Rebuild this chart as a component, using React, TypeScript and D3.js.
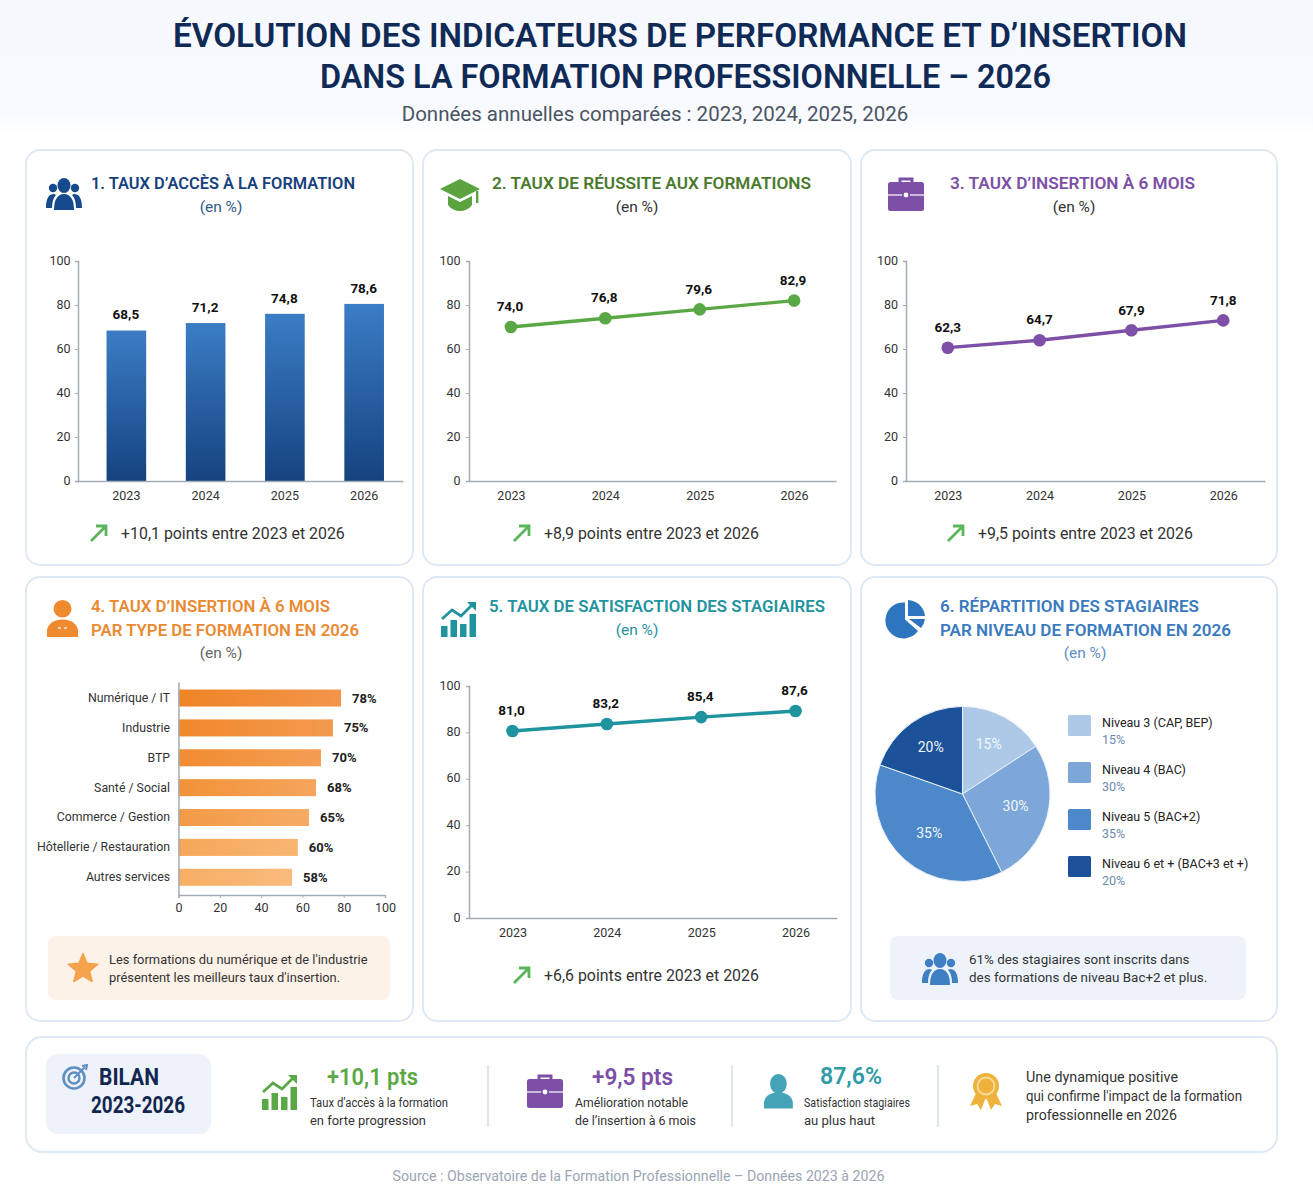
import * as React from "react";
import * as d3 from "d3";

const years = ["2023", "2024", "2025", "2026"];
const yTicks = [0, 20, 40, 60, 80, 100];

// bar and point heights as they sit on the picture, labels as they are printed
const accessValues = [68.4, 71.8, 76, 80.5];
const accessLabels = ["68,5", "71,2", "74,8", "78,6"];
const successValues = [70, 74, 78, 82];
const successLabels = ["74,0", "76,8", "79,6", "82,9"];
const insertionValues = [60.6, 64, 68.5, 73];
const insertionLabels = ["62,3", "64,7", "67,9", "71,8"];
const satisfactionValues = [80.6, 83.6, 86.6, 89.2];
const satisfactionLabels = ["81,0", "83,2", "85,4", "87,6"];

const sectors = ["Numérique / IT", "Industrie", "BTP", "Santé / Social", "Commerce / Gestion", "Hôtellerie / Restauration", "Autres services"];
const sectorValues = [78.7, 74.8, 69, 66.6, 63.2, 57.8, 55];
const sectorLabels = ["78%", "75%", "70%", "68%", "65%", "60%", "58%"];
const sectorLeftColors = ["#ef8426", "#f0882b", "#f18c31", "#f29238", "#f39a45", "#f5a758", "#f7ae64"];
const sectorRightColors = ["#f2954a", "#f39a4f", "#f49e54", "#f5a55c", "#f6ac66", "#f8b673", "#f9bb7c"];

const levels = ["Niveau 3 (CAP, BEP)", "Niveau 4 (BAC)", "Niveau 5 (BAC+2)", "Niveau 6 et + (BAC+3 et +)"];
const levelShares = [15.8, 26.8, 37.8, 19.6];
const levelLabels = ["15%", "30%", "35%", "20%"];
const levelColors = ["#aec8e7", "#7ca7d8", "#4c88ca", "#1c5299"];

const FONT = "Roboto, sans-serif";
const BLUE = "#174a8c";
const GREEN = "#5aa845";
const PURPLE = "#7d4fa6";
const TEAL = "#1f939e";
const ORANGE = "#ef8a2e";

const Axis = ({ axis, size = 12.5, color = "#333" }: any) => {
  const ref = React.useRef(null);
  React.useEffect(() => {
    const g = d3.select(ref.current);
    g.call(axis);
    g.selectAll(".domain").attr("stroke", "#a3abb5").attr("stroke-width", 1.5);
    g.selectAll(".tick line").attr("stroke", "#a3abb5");
    g.selectAll("text").attr("fill", color).style("font-size", size + "px").style("font-family", FONT);
  });
  return <g ref={ref} />;
};

const Card = ({ x, y, w, h, r = 14 }: any) => (
  <rect x={x} y={y} width={w} height={h} rx={r} fill="#fff" stroke="#dfe9f3" strokeWidth={2} />
);

// fit = width, the original face is narrower than Roboto in places
const T = ({ x, y, size = 14, color = "#333", weight = 400, anchor = "start", fit, children }: any) => (
  <text
    x={x}
    y={y}
    dy="0.35em"
    fontFamily={FONT}
    fontSize={size}
    fill={color}
    fontWeight={weight}
    textAnchor={anchor}
    textLength={fit}
    lengthAdjust={fit ? "spacingAndGlyphs" : undefined}
  >
    {children}
  </text>
);

const Trend = ({ x, y, children }: any) => (
  <g>
    <path d={`M${x - 8} ${y + 8}L${x + 6} ${y - 6}M${x - 3} ${y - 7}H${x + 7}V${y + 3}`} fill="none" stroke="#5bb55a" strokeWidth={2.8} />
    <T x={x + 22} y={y} size={15.9}>{children}</T>
  </g>
);

const People = ({ x, y, s = 1, color }: any) => (
  <g transform={`translate(${x} ${y}) scale(${s})`} fill={color}>
    <circle cx={7} cy={10} r={4.2} />
    <circle cx={29} cy={10} r={4.2} />
    <ellipse cx={18} cy={7.5} rx={6.5} ry={7.5} />
    <path d="M0 30C0 20 3 16 8 16L10 17C7 20 6 25 6 30ZM36 30C36 20 33 16 28 16L26 17C29 20 30 25 30 30Z" />
    <path d="M8 32C8 21 12 16 18 16C24 16 28 21 28 32Z" />
  </g>
);

const Briefcase = ({ x, y, s = 1, color }: any) => (
  <g transform={`translate(${x} ${y}) scale(${s})`}>
    <path d="M12 6V2H24V6" fill="none" stroke={color} strokeWidth={3} />
    <rect x={0} y={5} width={36} height={29} rx={2.5} fill={color} />
    <path d="M0 18H14M22 18H36" stroke="#fff" strokeWidth={1.4} opacity={0.8} />
    <circle cx={18} cy={18} r={2.4} fill="#fff" />
  </g>
);

const Person = ({ x, y, s = 1, color, head = 10.5, collar = false }: any) => (
  <g transform={`translate(${x} ${y}) scale(${s})`} fill={color}>
    <ellipse cx={15.5} cy={head} rx={9} ry={head} />
    <path d="M0 37V31C0 25 6 19.5 15.5 19.5C25 19.5 31 25 31 31V37Z" />
    {collar && <path d="M11 27.5L14 28.5M20 27.5L17 28.5" stroke="#fbe3c9" strokeWidth={1.6} />}
  </g>
);

const Growth = ({ x, y, s = 1, color }: any) => (
  <g transform={`translate(${x} ${y}) scale(${s})`} fill={color}>
    <rect x={0} y={25} width={6.5} height={11} />
    <rect x={9.5} y={19} width={6.5} height={17} />
    <rect x={19} y={23} width={6.5} height={13} />
    <rect x={28.5} y={13} width={6.5} height={23} />
    <path d="M1 18L11 9L20 15L32 3" fill="none" stroke={color} strokeWidth={2.8} />
    <path d="M26 1H35V10Z" />
  </g>
);

const Cap = ({ x, y, color }: any) => (
  <g transform={`translate(${x} ${y})`} fill={color}>
    <path d="M20 0L40 10L20 20L0 10Z" />
    <path d="M8 17L20 23L32 17V26C26 34 14 34 8 26Z" />
    <rect x={36} y={12} width={2.4} height={12} />
  </g>
);

const PieIcon = ({ x, y, color }: any) => (
  <g transform={`translate(${x} ${y})`} fill={color}>
    <path d="M17 2.5V19.5L30 31A18 18 0 1 1 17 2.5Z" />
    <path d="M20 0A18 18 0 0 1 37 16H20Z" />
    <path d="M21 19H37A18 18 0 0 1 33 28Z" />
  </g>
);

const Star = ({ x, y, r, color }: any) => {
  const points = d3.range(10).map(i => {
    const a = (i * Math.PI) / 5 - Math.PI / 2;
    const rr = i % 2 ? r * 0.45 : r;
    return [x + rr * Math.cos(a), y + rr * Math.sin(a)].join(",");
  });
  return <polygon points={points.join(" ")} fill={color} stroke={color} strokeWidth={1.5} strokeLinejoin="round" />;
};

const Target = ({ x, y, color }: any) => (
  <g fill="none" stroke={color}>
    <circle cx={x} cy={y} r={10.5} strokeWidth={2.6} />
    <circle cx={x} cy={y} r={5.5} strokeWidth={2.4} />
    <path d={`M${x} ${y}L${x + 11} ${y - 11}`} strokeWidth={2} />
    <path d={`M${x + 8} ${y - 12}L${x + 13} ${y - 13}L${x + 12} ${y - 8}`} strokeWidth={2} />
  </g>
);

const Medal = ({ x, y, color }: any) => (
  <g transform={`translate(${x} ${y})`}>
    <path d="M6 18L-1 33L6 31L10 37L15 24ZM24 18L31 33L24 31L20 37L15 24Z" fill={color} />
    <circle cx={15} cy={13} r={13} fill={color} />
    <circle cx={15} cy={13} r={8.5} fill="none" stroke="#f8dc9a" strokeWidth={1.8} />
    <circle cx={15} cy={13} r={5.5} fill={color} />
  </g>
);

const BarChart = () => {
  const x = d3.scaleBand().domain(years).range([78, 403]).paddingInner(0.5).paddingOuter(0.3).align(0.6);
  const y = d3.scaleLinear().domain([0, 100]).range([481, 261]);
  return (
    <g>
      {years.map((yr, i) => (
        <g key={yr}>
          <rect x={x(yr)} y={y(accessValues[i])} width={x.bandwidth()} height={y(0) - y(accessValues[i])} fill="url(#barBlue)" />
          <T x={x(yr)! + x.bandwidth() / 2 - 0.5} y={y(accessValues[i]) - 16} size={13.5} weight={700} color="#111" anchor="middle">{accessLabels[i]}</T>
        </g>
      ))}
      <Axis axis={(s: any) => { s.attr("transform", `translate(78 0)`).call(d3.axisLeft(y).tickValues(yTicks).tickSize(3).tickPadding(4.5)); s.selectAll("text").attr("dy", "0.24em"); }} />
      <Axis axis={(s: any) => { s.attr("transform", `translate(0 481)`).call(d3.axisBottom(x).tickSize(0).tickPadding(10)); }} />
    </g>
  );
};

const LineChart = ({ values, labels, color, xRange, yRange, pad, align = 0.5, tickPad = 5, labelDx = -1 }: any) => {
  const x = d3.scalePoint().domain(years).range(xRange).padding(pad).align(align);
  const y = d3.scaleLinear().domain([0, 100]).range(yRange);
  const line = d3.line<number>().x((_, i) => x(years[i])!).y(d => y(d));
  return (
    <g>
      <Axis axis={(s: any) => { s.attr("transform", `translate(${xRange[0]} 0)`).call(d3.axisLeft(y).tickValues(yTicks).tickSize(3).tickPadding(tickPad)); s.selectAll("text").attr("dy", "0.24em"); }} />
      <Axis axis={(s: any) => { s.attr("transform", `translate(0 ${yRange[0]})`).call(d3.axisBottom(x).tickSize(0).tickPadding(10)); }} />
      <path d={line(values)!} fill="none" stroke={color} strokeWidth={3.4} />
      {values.map((v: number, i: number) => (
        <g key={years[i]}>
          <circle cx={x(years[i])} cy={y(v)} r={6.3} fill={color} />
          <T x={x(years[i])! + labelDx} y={y(v) - 20.5} size={13.5} weight={700} color="#111" anchor="middle">{labels[i]}</T>
        </g>
      ))}
    </g>
  );
};

const SectorChart = () => {
  const x = d3.scaleLinear().domain([0, 100]).range([178.5, 385]);
  const y = d3.scaleBand().domain(sectors).range([682, 895]).paddingInner(0.43).paddingOuter(0.28).align(0.45);
  return (
    <g>
      <defs>
        {sectors.map((s, i) => (
          <linearGradient key={s} id={`sector${i}`}>
            <stop offset="0" stopColor={sectorLeftColors[i]} />
            <stop offset="1" stopColor={sectorRightColors[i]} />
          </linearGradient>
        ))}
      </defs>
      {sectors.map((s, i) => (
        <g key={s}>
          <rect x={x(0)} y={y(s)} width={x(sectorValues[i]) - x(0)} height={y.bandwidth()} fill={`url(#sector${i})`} />
          <T x={x(sectorValues[i]) + 11} y={y(s)! + y.bandwidth() / 2} size={13} weight={700} color="#222">{sectorLabels[i]}</T>
        </g>
      ))}
      <Axis size={12.3} axis={(s: any) => { s.attr("transform", `translate(178.5 0)`).call(d3.axisLeft(y).tickSize(0).tickPadding(8.5)); }} />
      <Axis axis={(s: any) => { s.attr("transform", `translate(0 895)`).call(d3.axisBottom(x).tickValues(yTicks).tickSize(3).tickPadding(5)); }} />
    </g>
  );
};

const PieChart = () => {
  const pie = d3.pie<number>().sort(null);
  const arc = d3.arc<any>().innerRadius(0).outerRadius(87.5);
  const labelArc = d3.arc<any>().innerRadius(55).outerRadius(55);
  const slices = pie(levelShares);
  return (
    <g>
      <g transform="translate(962.5 794)">
        {slices.map((d, i) => (
          <path key={levels[i]} d={arc(d)!} fill={levelColors[i]} stroke="#e9f1fa" strokeWidth={1} />
        ))}
        {slices.map((d, i) => {
          const [cx, cy] = labelArc.centroid(d);
          return <T key={levels[i]} x={cx + (i === 2 ? 3 : 0)} y={cy - 2} size={14} color="#f2f7fc" anchor="middle">{levelLabels[i]}</T>;
        })}
      </g>
      {levels.map((l, i) => (
        <g key={l}>
          <rect x={1068} y={715 + i * 47} width={23} height={21} rx={1.5} fill={levelColors[i]} />
          <T x={1102} y={723 + i * 47} size={12.5} color="#222">{l}</T>
          <T x={1102} y={740 + i * 47} size={12.5} color="#6d8bb0">{levelLabels[i]}</T>
        </g>
      ))}
    </g>
  );
};

export default function App() {
  return (
    <svg width={1313} height={1198} viewBox="0 0 1313 1198" style={{ position: "absolute", left: 0, top: 0, display: "block" }}>
      <defs>
        <linearGradient id="barBlue" x1="0" y1="0" x2="0" y2="1">
          <stop offset="0" stopColor="#3b7dc5" />
          <stop offset="1" stopColor="#15437f" />
        </linearGradient>
        <linearGradient id="headBg" x1="0" y1="0" x2="0" y2="1">
          <stop offset="0" stopColor="#f5f8fd" />
          <stop offset="0.85" stopColor="#f8fafe" />
          <stop offset="1" stopColor="#fff" />
        </linearGradient>
      </defs>
      <rect width={1313} height={1198} fill="#fff" />
      <rect width={1313} height={134} fill="url(#headBg)" />

      <T x={680} y={35} size={33} weight={600} color="#0f2a56" anchor="middle" fit={1014}>ÉVOLUTION DES INDICATEURS DE PERFORMANCE ET D’INSERTION</T>
      <T x={685.5} y={76} size={33} weight={600} color="#0f2a56" anchor="middle" fit={731}>DANS LA FORMATION PROFESSIONNELLE – 2026</T>
      <T x={655} y={114} size={20.5} color="#4a5563" anchor="middle">Données annuelles comparées : 2023, 2024, 2025, 2026</T>

      <Card x={26} y={150} w={387} h={415} />
      <Card x={423} y={150} w={428} h={415} />
      <Card x={861} y={150} w={416} h={415} />
      <Card x={26} y={577} w={387} h={444} />
      <Card x={423} y={577} w={428} h={444} />
      <Card x={861} y={577} w={416} h={444} />
      <Card x={26} y={1037} w={1251} h={115} r={16} />

      <People x={46} y={178} color={BLUE} />
      <T x={91} y={183.5} size={17} weight={600} fit={264} color="#17407e">1. TAUX D’ACCÈS À LA FORMATION</T>
      <T x={221} y={207} size={15.5} color="#2f5c8e" anchor="middle">(en %)</T>
      <BarChart />
      <Trend x={99} y={533}>+10,1 points entre 2023 et 2026</Trend>

      <Cap x={440} y={179} color="#5aa33f" />
      <T x={492} y={183.5} size={17} weight={600} fit={319} color="#4a7a2d">2. TAUX DE RÉUSSITE AUX FORMATIONS</T>
      <T x={637} y={207} size={15.5} color="#333" anchor="middle">(en %)</T>
      <LineChart values={successValues} labels={successLabels} color={GREEN} xRange={[469, 836]} yRange={[481, 261]} pad={0.444} tickPad={5.5} />
      <Trend x={522} y={533}>+8,9 points entre 2023 et 2026</Trend>

      <Briefcase x={888} y={177} color={PURPLE} />
      <T x={950} y={183.5} size={17} weight={600} fit={245} color={PURPLE}>3. TAUX D’INSERTION À 6 MOIS</T>
      <T x={1074} y={207} size={15.5} color="#333" anchor="middle">(en %)</T>
      <LineChart values={insertionValues} labels={insertionLabels} color={PURPLE} xRange={[906, 1265]} yRange={[481, 261]} pad={0.455} labelDx={0} />
      <Trend x={956} y={533}>+9,5 points entre 2023 et 2026</Trend>

      <Person x={47} y={600} color={ORANGE} head={8.8} collar />
      <T x={91} y={606.5} size={17} weight={600} fit={239} color="#e98a33">4. TAUX D’INSERTION À 6 MOIS</T>
      <T x={91} y={630.5} size={17} weight={600} fit={268} color="#e98a33">PAR TYPE DE FORMATION EN 2026</T>
      <T x={221} y={653} size={15.5} color="#666" anchor="middle">(en %)</T>
      <SectorChart />
      <rect x={48} y={936} width={342} height={64} rx={8} fill="#fdf2e8" />
      <Star x={83} y={969} r={15.5} color="#f4a24c" />
      <T x={109} y={959} size={12.9} color="#333">Les formations du numérique et de l'industrie</T>
      <T x={109} y={977} size={12.9} color="#333">présentent les meilleurs taux d'insertion.</T>

      <Growth x={441} y={601} color={TEAL} />
      <T x={489} y={606.5} size={17} weight={600} fit={336} color={TEAL}>5. TAUX DE SATISFACTION DES STAGIAIRES</T>
      <T x={637} y={630} size={15.5} color={TEAL} anchor="middle">(en %)</T>
      <LineChart values={satisfactionValues} labels={satisfactionLabels} color={TEAL} xRange={[469, 837]} yRange={[918, 686]} pad={0.45} align={0.512} tickPad={5.5} />
      <Trend x={522} y={975}>+6,6 points entre 2023 et 2026</Trend>

      <PieIcon x={888} y={600} color="#2e75c0" />
      <T x={940} y={606.5} size={17} weight={600} fit={259} color="#3a7abf">6. RÉPARTITION DES STAGIAIRES</T>
      <T x={940} y={630.5} size={17} weight={600} fit={291} color="#3a7abf">PAR NIVEAU DE FORMATION EN 2026</T>
      <T x={1085} y={653} size={15.5} color="#5f8fc4" anchor="middle">(en %)</T>
      <PieChart />
      <rect x={890} y={936} width={356} height={64} rx={8} fill="#eef3fb" />
      <People x={922} y={953} color="#3f7fc4" />
      <T x={969} y={959} size={13.4} color="#333">61% des stagiaires sont inscrits dans</T>
      <T x={969} y={977} size={13.4} color="#333">des formations de niveau Bac+2 et plus.</T>

      <rect x={46} y={1054} width={165} height={80} rx={12} fill="#eef3fb" />
      <Target x={74} y={1078} color="#5f8fc0" />
      <T x={99} y={1077} size={23} weight={700} fit={60} color="#12264f">BILAN</T>
      <T x={91} y={1105} size={23} weight={700} fit={94} color="#12264f">2023-2026</T>

      <Growth x={262} y={1074} color={GREEN} />
      <T x={372.5} y={1076.5} size={24} weight={600} fit={91} color={GREEN} anchor="middle">+10,1 pts</T>
      <T x={310} y={1103} size={12.5} fit={138} color="#333">Taux d’accès à la formation</T>
      <T x={310} y={1121} size={12.5} fit={116} color="#333">en forte progression</T>
      <line x1={488} x2={488} y1={1065} y2={1127} stroke="#d5dde6" strokeWidth={1.5} />

      <Briefcase x={527} y={1074} color={PURPLE} />
      <T x={632.5} y={1076.5} size={24} weight={600} fit={81} color={PURPLE} anchor="middle">+9,5 pts</T>
      <T x={575} y={1103} size={12.5} fit={113} color="#333">Amélioration notable</T>
      <T x={575} y={1121} size={12.5} fit={121} color="#333">de l’insertion à 6 mois</T>
      <line x1={732} x2={732} y1={1065} y2={1127} stroke="#d5dde6" strokeWidth={1.5} />

      <Person x={764} y={1074} s={0.93} color="#45a3b8" />
      <T x={851} y={1076} size={24} weight={600} fit={62} color="#2f9aa8" anchor="middle">87,6%</T>
      <T x={804} y={1103} size={12.5} fit={106} color="#333">Satisfaction stagiaires</T>
      <T x={804} y={1121} size={12.5} fit={71} color="#333">au plus haut</T>
      <line x1={938} x2={938} y1={1065} y2={1127} stroke="#d5dde6" strokeWidth={1.5} />

      <Medal x={971} y={1073} color="#efb23c" />
      <T x={1026} y={1077} size={14} fit={152} color="#333">Une dynamique positive</T>
      <T x={1026} y={1096} size={14} fit={216} color="#333">qui confirme l'impact de la formation</T>
      <T x={1026} y={1115} size={14} fit={151} color="#333">professionnelle en 2026</T>

      <T x={638.5} y={1176} size={14.2} color="#9aa5b4" anchor="middle">Source : Observatoire de la Formation Professionnelle – Données 2023 à 2026</T>
    </svg>
  );
}
